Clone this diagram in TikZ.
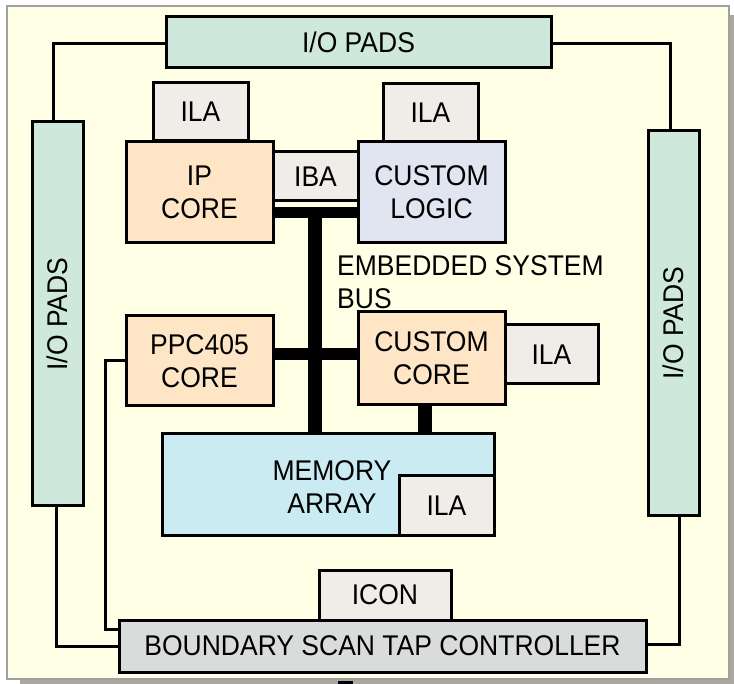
\documentclass[tikz,border=0pt]{standalone}
\usepackage{fontspec}
\setmainfont{Liberation Sans}[FakeStretch=0.93]
\definecolor{bgyellow}{RGB}{255,255,230}
\definecolor{framegray}{RGB}{160,160,160}
\definecolor{shadowgray}{RGB}{168,168,160}
\definecolor{padgreen}{RGB}{206,233,220}
\definecolor{ilagray}{RGB}{240,236,232}
\definecolor{corepeach}{RGB}{253,229,198}
\definecolor{logiclav}{RGB}{225,229,242}
\definecolor{memblue}{RGB}{203,235,242}
\definecolor{tapgray}{RGB}{218,220,220}
\tikzset{
  lbl/.style={font=\fontsize{28.5}{33}\selectfont},
  blk/.style={draw=black, line width=3pt, rectangle, inner sep=0pt, align=center, lbl},
  pad/.style={blk, fill=padgreen},
  ilabox/.style={blk, fill=ilagray},
  corebox/.style={blk, fill=corepeach},
  wire/.style={draw=black, line width=3pt},
  bus/.style={draw=black, line cap=butt},
}
\begin{document}
\begin{tikzpicture}[x=1pt,y=-1pt]
\useasboundingbox (0,0) rectangle (734,684);
\fill[white] (0,0) rectangle (734,684);
% frame with shadow
\fill[shadowgray] (20,15) rectangle (734,684);
\filldraw[fill=bgyellow, draw=framegray, line width=2.5pt] (7,6) rectangle (729,679);
\fill[black] (338,681) rectangle (353,684);

% I/O pads
\node[pad, minimum width=385pt, minimum height=51pt] (top) at (358.5,42.5) {I/O PADS};
\node[pad, minimum width=384pt, minimum height=51pt, rotate=90] (lio) at (57.5,314) {I/O PADS};
\node[pad, minimum width=384pt, minimum height=51pt, rotate=90] (rio) at (673.5,323) {I/O PADS};

% cores
\node[ilabox, minimum width=95pt, minimum height=58pt] (ila1) at (200.5,112) {ILA};
\node[ilabox, minimum width=95pt, minimum height=58pt] (ila2) at (430.5,112.5) {ILA};
\node[corebox, minimum width=147pt, minimum height=101pt] (ip) at (199.5,192.5) {IP\\CORE};
\node[blk, fill=logiclav, minimum width=147pt, minimum height=101pt] (cl) at (431.5,192.5) {CUSTOM\\LOGIC};
\node[ilabox, minimum width=85pt, minimum height=49pt] (iba) at (315.5,176.5) {IBA};
\node[corebox, minimum width=147pt, minimum height=90pt] (ppc) at (199.5,361) {PPC405\\CORE};
\node[corebox, minimum width=147pt, minimum height=93pt] (cc) at (431.5,358.5) {CUSTOM\\CORE};
\node[ilabox, minimum width=93pt, minimum height=59pt] (ila3) at (551.5,354.5) {ILA};
\node[blk, fill=memblue, minimum width=332pt, minimum height=101pt] (mem) at (328,484.5) {};
\node[lbl, align=center, inner sep=0pt] (memtxt) at (332,487) {MEMORY\\ARRAY};
\node[ilabox, minimum width=95pt, minimum height=59pt] (ila4) at (446.5,505.5) {ILA};
\node[ilabox, minimum width=132pt, minimum height=50pt] (icon) at (385,595) {ICON};
\node[blk, fill=tapgray, minimum width=527pt, minimum height=52pt] (tap) at (382.5,646) {BOUNDARY SCAN TAP CONTROLLER};

% bus label
\node[lbl, align=left, inner sep=0pt, anchor=north west] (buslbl) at (337,255) {EMBEDDED SYSTEM\\BUS};

% embedded system bus
\coordinate (bt) at (315,207);
\draw[bus, line width=11pt] (ip.east |- 0,212.5) -- (cl.west |- 0,212.5);
\draw[bus, line width=14pt] (bt) -- (mem.north -| bt);
\draw[bus, line width=12pt] (ppc.east |- 0,354) -- (cc.west |- 0,354);
\draw[bus, line width=14pt] (cc.south -| 425,0) -- (mem.north -| 425,0);

% JTAG wiring
\draw[wire] (top.west |- 0,44) -| (lio.east -| 53,0);
\draw[wire] (top.east |- 0,44) -| (rio.east -| 670,0);
\draw[wire] (lio.west -| 56,0) |- (tap.west);
\draw[wire] (rio.west -| 679,0) |- (tap.east |- 0,644);
\draw[wire] (ppc.west) -| (105,629) -- (tap.west |- 0,629);
\end{tikzpicture}
\end{document}
